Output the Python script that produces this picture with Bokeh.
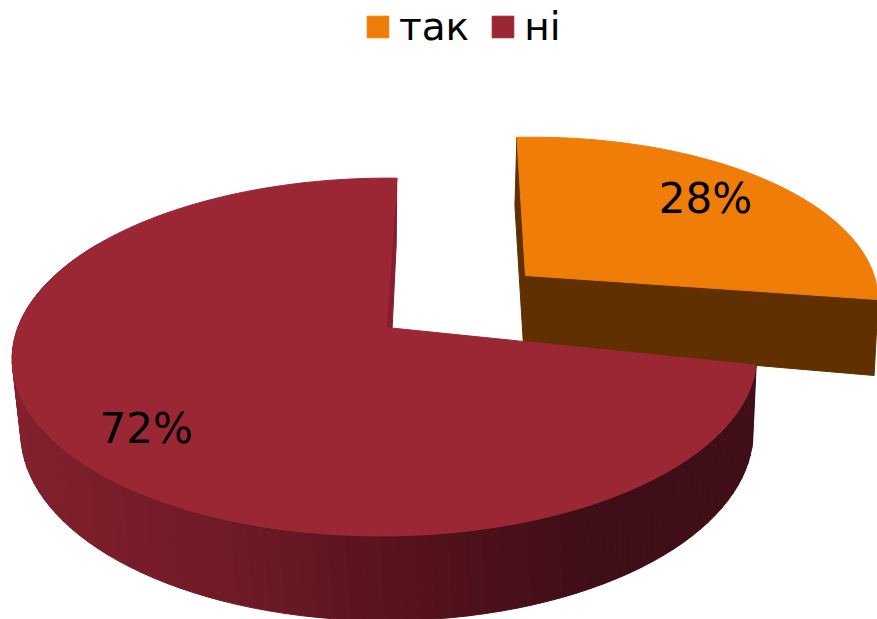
import numpy as np
from bokeh.embed import file_html
from bokeh.resources import INLINE
from bokeh.plotting import figure
from bokeh.core.properties import value
from bokeh.models import Legend, LegendItem

categories = ["так", "ні"]
shares = [28, 72]
top_colors = ["#ef7d08", "#9b2735"]
wall_color_orange = "#613000"
notch_color = "#861e2e"
FONT = "DejaVu Sans"

W, H = 877, 619


def plane(apex, rx, ry, k, m, sx, ty):
    def f(theta_deg, r=1.0):
        t = np.radians(np.asarray(theta_deg, dtype=float))
        x, y = r * np.sin(t), r * np.cos(t)
        w = 1 + k * y + m * x
        return apex[0] + (rx * x + sx * y) / w, apex[1] + (-ry * y + ty * x) / w
    return f


red_top = plane((386, 327), 367, 174, 0.165, 0.0, 12, 4)
red_bot = plane((388, 401), 361, 183, 0.165, 0.0, 9, 4)
or_top = plane((525, 275), 346, 161, 0.165, 0.0, -10, -7)
or_bot = plane((523, 345), 344, 163, 0.165, 0.0, -10, -1.5)

a0 = 0.0
a1 = a0 + shares[0] / sum(shares) * 360
a2 = a1 + shares[1] / sum(shares) * 360

p = figure(width=W, height=H, x_range=(0, W), y_range=(H, 0), output_backend="svg",
           toolbar_location=None, min_border=0, outline_line_color=None,
           background_fill_color="white", border_fill_color="white")
p.axis.visible = False
p.grid.visible = False

# orange slice walls
ax, ay = or_top(0, 0)
bx, by = or_bot(0, 0)
tx0, ty0 = or_top(a0)
bx0, by0 = or_bot(a0)
tx1, ty1 = or_top(a1)
bx1, by1 = or_bot(a1)
p.patch([ax, tx0, bx0, bx], [ay, ty0, by0, by], fill_color=wall_color_orange, line_color=wall_color_orange)
p.patch([ax, tx1, bx1, bx], [ay, ty1, by1, by], fill_color=wall_color_orange, line_color=wall_color_orange)

# orange top
th = np.linspace(a0, a1, 60)
xs, ys = or_top(th)
r_or = p.patch([ax, *xs], [ay, *ys], fill_color=top_colors[0], line_color=top_colors[0])

# red notch wall
ax, ay = red_top(0, 0)
bx, by = red_bot(0, 0)
tx2, ty2 = red_top(a2)
bx2, by2 = red_bot(a2)
p.patch([ax, tx2, bx2, bx], [ay, ty2, by2, by], fill_color=notch_color, line_color=notch_color)

# red outer wall as shaded strips
stop_a = [100, 150, 165, 180, 200, 230, 270, 300]
stop_c = [(0x3f, 0x0f, 0x17), (0x40, 0x0e, 0x16), (0x4c, 0x11, 0x1b), (0x5c, 0x14, 0x1e),
          (0x70, 0x1b, 0x27), (0x7e, 0x20, 0x2c), (0x85, 0x23, 0x2f), (0x85, 0x23, 0x2f)]
edges = np.linspace(a1, 300, 90)
sx_, sy_, sc_ = [], [], []
for e0, e1 in zip(edges[:-1], edges[1:]):
    tx, ty = red_top([e0, e1])
    bx_, by_ = red_bot([e0, e1])
    sx_.append([tx[0], tx[1], bx_[1], bx_[0]])
    sy_.append([ty[0], ty[1], by_[1], by_[0]])
    mid = (e0 + e1) / 2
    c = [int(np.interp(mid, stop_a, [s[i] for s in stop_c])) for i in range(3)]
    sc_.append("#%02x%02x%02x" % tuple(c))
p.patches(sx_, sy_, fill_color=sc_, line_color=sc_)

# red top
th = np.linspace(a1, a2, 160)
xs, ys = red_top(th)
r_red = p.patch([ax, *xs], [ay, *ys], fill_color=top_colors[1], line_color=top_colors[1])

# value labels
lx0, ly0 = or_top((a0 + a1) / 2, 0.75)
lx1, ly1 = red_top((a1 + a2) / 2, 0.78)
p.text([float(lx0) - 1, float(lx1) + 6.5], [float(ly0) - 1.5, float(ly1) + 9], text=[f"{v}%" for v in shares],
       text_font=value(FONT), text_font_size="42px", text_color="black",
       text_align="center", text_baseline="middle")

legend = Legend(items=[LegendItem(label=categories[0], renderers=[r_or]),
                       LegendItem(label=categories[1], renderers=[r_red])],
                orientation="horizontal", location=(364, H - 49), glyph_width=27, glyph_height=27,
                label_standoff=8, spacing=20, padding=0, margin=0,
                label_text_font=FONT, label_text_font_size="39px", label_text_color="black",
                background_fill_alpha=0, border_line_color=None)
p.add_layout(legend)

open("out.html", "w").write(file_html(p, INLINE))
